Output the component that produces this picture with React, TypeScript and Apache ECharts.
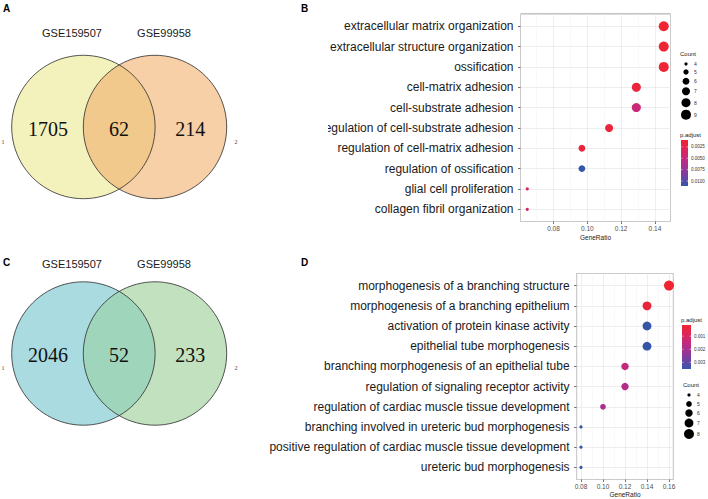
import React, { useEffect, useRef } from 'react';
import * as echarts from 'echarts';

// ---------- data ----------
const vennSetNames = ['GSE159507', 'GSE99958'];
const vennA = [1705, 62, 214];
const vennC = [2046, 52, 233];

const termsB = [
  'extracellular matrix organization',
  'extracellular structure organization',
  'ossification',
  'cell-matrix adhesion',
  'cell-substrate adhesion',
  'regulation of cell-substrate adhesion',
  'regulation of cell-matrix adhesion',
  'regulation of ossification',
  'glial cell proliferation',
  'collagen fibril organization',
];
const ratioB = [0.1452, 0.1452, 0.1452, 0.129, 0.129, 0.1129, 0.0968, 0.0968, 0.0645, 0.0645];
const countB = [9, 9, 9, 8, 8, 7, 6, 6, 4, 4];
const padjB = [0.00098, 0.0011, 0.0012, 0.0016, 0.0046, 0.0015, 0.0017, 0.0111, 0.0036, 0.0036];
const countLegendB = [4, 5, 6, 7, 8, 9];
const padjTicksB = [0.0025, 0.005, 0.0075, 0.01];

const termsD = [
  'morphogenesis of a branching structure',
  'morphogenesis of a branching epithelium',
  'activation of protein kinase activity',
  'epithelial tube morphogenesis',
  'branching morphogenesis of an epithelial tube',
  'regulation of signaling receptor activity',
  'regulation of cardiac muscle tissue development',
  'branching involved in ureteric bud morphogenesis',
  'positive regulation of cardiac muscle tissue development',
  'ureteric bud morphogenesis',
];
const ratioD = [0.16, 0.14, 0.14, 0.14, 0.12, 0.12, 0.1, 0.08, 0.08, 0.08];
const countD = [8, 7, 7, 7, 6, 6, 5, 4, 4, 4];
const padjD = [0.00015, 0.0003, 0.0035, 0.0035, 0.0015, 0.0018, 0.002, 0.0035, 0.0035, 0.0035];
const countLegendD = [4, 5, 6, 7, 8];
const padjTicksD = [0.001, 0.002, 0.003];

const rampColors = ['#EF2530', '#DE2658', '#C42A7E', '#9E3393', '#6C43A2', '#3556A8'];

const SANS = '"Liberation Sans", Arial, sans-serif';
const SERIF = '"Liberation Serif", "Times New Roman", serif';

function sizeFn(counts: number[]) {
  const cmin = Math.min(...counts);
  const cmax = Math.max(...counts);
  const dMin = 3.2;
  const dMax = 10;
  return (c: number) => Math.sqrt(dMin * dMin + ((dMax * dMax - dMin * dMin) * (c - cmin)) / (cmax - cmin));
}

function lensPoints(cx1: number, cx2: number, cy: number, r: number, n = 48) {
  const d = cx2 - cx1;
  const h = Math.sqrt(r * r - (d / 2) * (d / 2));
  const a1 = Math.atan2(h, d / 2);
  const pts: number[][] = [];
  for (let i = 0; i <= n; i++) {
    const t = -a1 + (2 * a1 * i) / n;
    pts.push([cx1 + r * Math.cos(t), cy + r * Math.sin(t)]);
  }
  for (let i = 0; i <= n; i++) {
    const t = Math.PI - a1 + (2 * a1 * i) / n;
    pts.push([cx2 + r * Math.cos(t), cy + r * Math.sin(t)]);
  }
  return pts;
}

function venn(cy: number, labelY: number, counts: number[], colors: string[], numY: number, sideY: number) {
  const cx1 = 83.4;
  const cx2 = 155;
  const r = 71.7;
  const els: any[] = [
    { type: 'circle', shape: { cx: cx1, cy, r }, style: { fill: colors[0], stroke: 'none' } },
    { type: 'circle', shape: { cx: cx2, cy, r }, style: { fill: colors[1], stroke: 'none' } },
    { type: 'polygon', shape: { points: lensPoints(cx1, cx2, cy, r) }, style: { fill: colors[2], stroke: 'none' } },
    { type: 'circle', shape: { cx: cx1, cy, r }, style: { fill: 'none', stroke: '#2b2b2b', lineWidth: 0.8 } },
    { type: 'circle', shape: { cx: cx2, cy, r }, style: { fill: 'none', stroke: '#2b2b2b', lineWidth: 0.8 } },
    { type: 'text', x: 72, y: labelY, style: { text: vennSetNames[0], font: `11px ${SANS}`, fill: '#1a1a1a', align: 'center', verticalAlign: 'middle' } },
    { type: 'text', x: 164, y: labelY, style: { text: vennSetNames[1], font: `11px ${SANS}`, fill: '#1a1a1a', align: 'center', verticalAlign: 'middle' } },
    { type: 'text', x: 48, y: numY, style: { text: String(counts[0]), font: `20px ${SERIF}`, fill: '#111', align: 'center', verticalAlign: 'middle' } },
    { type: 'text', x: 119, y: numY, style: { text: String(counts[1]), font: `20px ${SERIF}`, fill: '#111', align: 'center', verticalAlign: 'middle' } },
    { type: 'text', x: 190.3, y: numY, style: { text: String(counts[2]), font: `20px ${SERIF}`, fill: '#111', align: 'center', verticalAlign: 'middle' } },
    { type: 'text', x: 3, y: sideY, style: { text: '1', font: `6px ${SERIF}`, fill: '#444', align: 'center', verticalAlign: 'middle' } },
    { type: 'text', x: 236, y: sideY, style: { text: '2', font: `6px ${SERIF}`, fill: '#444', align: 'center', verticalAlign: 'middle' } },
  ];
  return els;
}

function sizeLegend(x: number, titleY: number, ys: number[], counts: number[], fn: (c: number) => number) {
  const els: any[] = [
    { type: 'text', x: x - 6, y: titleY, style: { text: 'Count', font: `6px ${SANS}`, fill: '#222', align: 'left', verticalAlign: 'middle' } },
  ];
  counts.forEach((c, i) => {
    els.push({ type: 'circle', shape: { cx: x, cy: ys[i], r: fn(c) / 2 }, style: { fill: '#000' } });
    els.push({ type: 'text', x: x + 8, y: ys[i], style: { text: String(c), font: `5px ${SANS}`, fill: '#333', align: 'left', verticalAlign: 'middle' } });
  });
  return els;
}

function colorLegend(x: number, y0: number, w: number, h: number, pmin: number, pmax: number, ticks: number[], digits: number) {
  const stops = rampColors.map((c, i) => ({ offset: i / (rampColors.length - 1), color: c }));
  const els: any[] = [
    { type: 'text', x: x - 1, y: y0 - 5, style: { text: 'p.adjust', font: `6px ${SANS}`, fill: '#222', align: 'left', verticalAlign: 'middle' } },
    {
      type: 'rect',
      shape: { x, y: y0, width: w, height: h },
      style: { fill: { type: 'linear', x: 0, y: 0, x2: 0, y2: 1, colorStops: stops } },
    },
  ];
  ticks.forEach((t) => {
    const yy = y0 + ((t - pmin) / (pmax - pmin)) * h;
    els.push({ type: 'line', shape: { x1: x, y1: yy, x2: x + 1.5, y2: yy }, style: { stroke: '#fff', lineWidth: 0.5 } });
    els.push({ type: 'line', shape: { x1: x + w - 1.5, y1: yy, x2: x + w, y2: yy }, style: { stroke: '#fff', lineWidth: 0.5 } });
    els.push({ type: 'text', x: x + w + 3, y: yy, style: { text: t.toFixed(digits), font: `4.5px ${SANS}`, fill: '#333', align: 'left', verticalAlign: 'middle' } });
  });
  return els;
}

function panelLetter(t: string, x: number, y: number) {
  return { type: 'text', x, y, style: { text: t, font: `bold 10px ${SANS}`, fill: '#000', align: 'left', verticalAlign: 'top' } };
}

function xAxisCfg(grid: number, min: number, max: number, nameGap: number) {
  return {
    gridIndex: grid,
    type: 'value',
    min,
    max,
    minInterval: 0.02,
    maxInterval: 0.02,
    axisLine: { show: false },
    axisTick: { show: true, length: 2.5, lineStyle: { color: '#333', width: 0.7 } },
    axisLabel: {
      fontSize: 6.5,
      fontFamily: SANS,
      color: '#4d4d4d',
      margin: 3,
      showMinLabel: false,
      showMaxLabel: false,
      formatter: (v: number) => v.toFixed(2),
    },
    splitLine: { show: true, lineStyle: { color: '#E6E6E6', width: 0.7 } },
    minorTick: { show: false, splitNumber: 2 },
    minorSplitLine: { show: true, lineStyle: { color: '#F2F2F2', width: 0.5 } },
    name: 'GeneRatio',
    nameLocation: 'middle',
    nameGap,
    nameTextStyle: { fontSize: 6.5, fontFamily: SANS, color: '#222' },
  };
}

function yAxisCfg(grid: number, terms: string[]) {
  return {
    gridIndex: grid,
    type: 'value',
    min: 0.4,
    max: terms.length + 0.6,
    inverse: true,
    minInterval: 1,
    maxInterval: 1,
    axisLine: { show: false },
    axisTick: { show: true, length: 2.5, lineStyle: { color: '#333', width: 0.7 } },
    axisLabel: {
      fontSize: 12,
      fontFamily: SANS,
      color: '#1a1a1a',
      margin: 7,
      showMinLabel: false,
      showMaxLabel: false,
      formatter: (v: number) => {
        const k = Math.round(v);
        return Math.abs(v - k) < 1e-6 && k >= 1 && k <= terms.length ? terms[k - 1] : '';
      },
    },
    splitLine: { show: true, lineStyle: { color: '#E6E6E6', width: 0.7 } },
  };
}

export default function App() {
  const ref = useRef<HTMLDivElement>(null);
  useEffect(() => {
    document.body.style.margin = '0';
    if (!ref.current) return;
    const chart = echarts.init(ref.current, undefined, { renderer: 'svg' });
    const sB = sizeFn(countB);
    const sD = sizeFn(countD);
    const pminB = Math.min(...padjB), pmaxB = Math.max(...padjB);
    const pminD = Math.min(...padjD), pmaxD = Math.max(...padjD);

    const graphics: any[] = [
      ...venn(127, 32.5, vennA, ['#F4F2BC', '#F8D0A8', '#F2C98C'], 128.5, 142),
      ...venn(353.5, 264, vennC, ['#AADBE1', '#C1E1BF', '#9FD6BB'], 355, 367.5),
      panelLetter('A', 3, 3.5),
      panelLetter('B', 301, 3.5),
      panelLetter('C', 3, 257),
      panelLetter('D', 301, 257),
      ...sizeLegend(686, 53.5, [64, 72, 81.3, 91.3, 102.7, 114.7], countLegendB, sB),
      ...colorLegend(681, 140, 7, 46, pminB, pmaxB, padjTicksB, 4),
      ...colorLegend(682, 325, 9, 44, pminD, pmaxD, padjTicksD, 3),
      ...sizeLegend(689, 385, [395, 404, 413, 423, 434], countLegendD, sD),
      { type: 'rect', shape: { x: 292, y: 119, width: 36, height: 18 }, style: { fill: '#fff' }, z: 100 },
    ];

    const option: any = {
      animation: false,
      backgroundColor: '#fff',
      grid: [
        { left: 520.5, top: 14, width: 150, height: 207.5, show: true, borderColor: '#7a7a7a', borderWidth: 0.9, backgroundColor: '#fff' },
        { left: 576.6, top: 273.5, width: 96.8, height: 207.5, show: true, borderColor: '#7a7a7a', borderWidth: 0.9, backgroundColor: '#fff' },
      ],
      xAxis: [xAxisCfg(0, 0.0605, 0.1492, 12), xAxisCfg(1, 0.076, 0.164, 11.5)],
      yAxis: [yAxisCfg(0, termsB), yAxisCfg(1, termsD)],
      visualMap: [
        { type: 'continuous', show: false, seriesIndex: 0, dimension: 3, min: pminB, max: pmaxB, inRange: { color: rampColors } },
        { type: 'continuous', show: false, seriesIndex: 1, dimension: 3, min: pminD, max: pmaxD, inRange: { color: rampColors } },
      ],
      series: [
        {
          type: 'scatter',
          xAxisIndex: 0,
          yAxisIndex: 0,
          data: termsB.map((t, i) => [ratioB[i], i + 1, countB[i], padjB[i]]),
          symbolSize: (v: number[]) => sB(v[2]),
          itemStyle: { opacity: 1 },
        },
        {
          type: 'scatter',
          xAxisIndex: 1,
          yAxisIndex: 1,
          data: termsD.map((t, i) => [ratioD[i], i + 1, countD[i], padjD[i]]),
          symbolSize: (v: number[]) => sD(v[2]),
          itemStyle: { opacity: 1 },
        },
      ],
      graphic: { elements: graphics },
    };
    chart.setOption(option);
    return () => chart.dispose();
  }, []);
  return <div ref={ref} style={{ width: 708, height: 499 }} />;
}
